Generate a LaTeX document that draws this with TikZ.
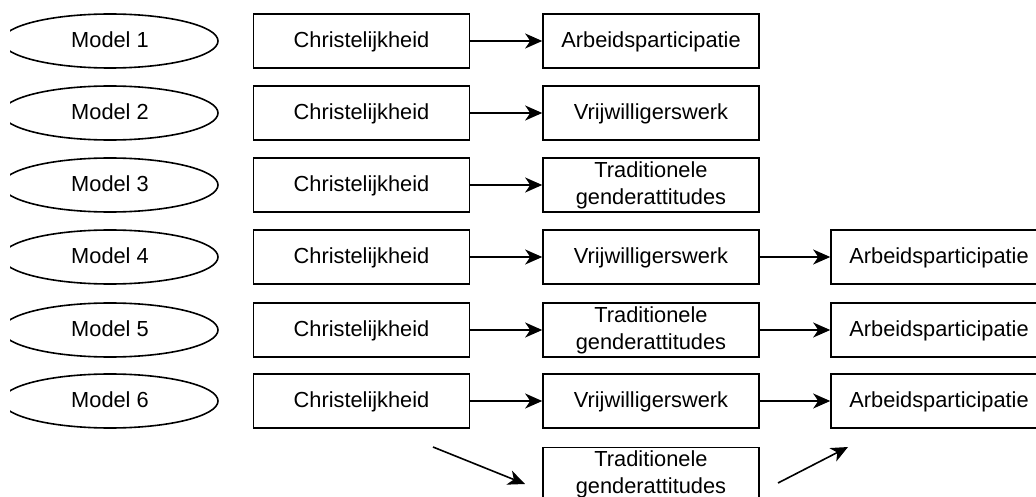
\documentclass[tikz,border=0pt]{standalone}
\usepackage{fontspec}
\setmainfont{Liberation Sans}
\usetikzlibrary{shapes.geometric,arrows.meta}
\tikzset{
  every node/.style={font=\fontsize{21.8}{27}\selectfont, align=center, inner sep=0pt},
  model/.style={ellipse, draw, line width=1.6pt, minimum width=216pt, minimum height=54pt},
  box/.style={rectangle, draw, line width=1.6pt, minimum width=216pt, minimum height=54pt},
  one/.style={text height=16pt, text depth=3pt},
  conn/.style={line width=1.6pt, -{Stealth[length=17pt,width=15pt,inset=5pt]}}
}
\begin{document}
\begin{tikzpicture}[x=1pt,y=-1pt]
\useasboundingbox (0,0) rectangle (1036,497);
\fill[white] (0,0) rectangle (1036,497);
\clip (10,0) rectangle (1036,497);
% rows
\foreach \i/\yy in {1/41,2/113,3/185,4/257,5/330,6/401}{
  \node[model,one] (m\i) at (110,\yy) {Model \i};
  \node[box,one] (c\i) at (361.5,\yy) {Christelijkheid};
}
\node[box,one] (b1) at (651,41) {Arbeidsparticipatie};
\node[box,one] (b2) at (651,113) {Vrijwilligerswerk};
\node[box] (b3) at (651,185) {Traditionele\\genderattitudes};
\node[box,one] (b4) at (651,257) {Vrijwilligerswerk};
\node[box] (b5) at (651,330) {Traditionele\\genderattitudes};
\node[box,one] (b6) at (651,401) {Vrijwilligerswerk};
\node[box] (b7) at (651,474.5) {Traditionele\\genderattitudes};
\node[box,one] (r4) at (939,257) {Arbeidsparticipatie};
\node[box,one] (r5) at (939,330) {Arbeidsparticipatie};
\node[box,one] (r6) at (939,401) {Arbeidsparticipatie};
\foreach \i in {1,...,6}{
  \draw[conn] (c\i.east) -- (b\i.west);
}
\foreach \i in {4,5,6}{
  \draw[conn] (b\i.east) -- (r\i.west);
}
\coordinate (d1s) at (433,447);
\coordinate (d1e) at (525,484);
\coordinate (d2s) at (778,483);
\coordinate (d2e) at (848,447);
\draw[conn] (d1s) -- (d1e);
\draw[conn] (d2s) -- (d2e);
\end{tikzpicture}
\end{document}
